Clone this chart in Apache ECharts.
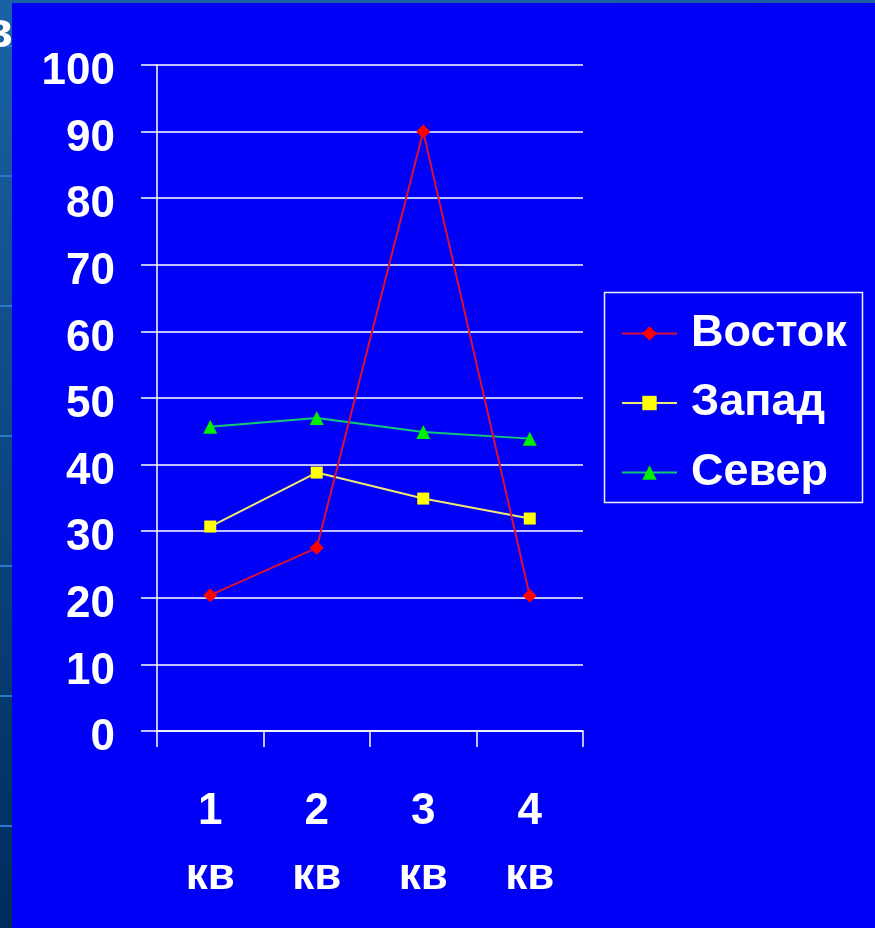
<!DOCTYPE html>
<html>
<head>
<meta charset="utf-8">
<script src="https://cdn.jsdelivr.net/npm/echarts@6/dist/echarts.min.js"></script>
<style>html,body{margin:0;padding:0;background:#0000f6;}#c{width:875px;height:928px;}</style>
</head>
<body>
<div id="c"></div>
<script>
var categories = ['1\nкв', '2\nкв', '3\nкв', '4\nкв'];
var seriesNames = ['Восток', 'Запад', 'Север'];
var vostok = [20.4, 27.5, 90, 20.3];
var zapad = [30.7, 38.8, 34.9, 31.9];
var sever = [45.7, 47, 44.9, 43.9];
var yTicks = [0, 10, 20, 30, 40, 50, 60, 70, 80, 90, 100];

var FONT = '"Liberation Sans", Arial, sans-serif';
var chart = echarts.init(document.getElementById('c'), null, {renderer: 'canvas'});

var stripLines = [];
[45, 175, 305, 435, 565, 695, 825].forEach(function (y) {
  stripLines.push({type: 'rect', shape: {x: 0, y: y, width: 12, height: 2}, style: {fill: '#2a78cc'}, z: 1});
});

chart.setOption({
  backgroundColor: '#0000f6',
  animation: false,
  graphic: [
    {type: 'rect', shape: {x: 0, y: 0, width: 12, height: 928},
      style: {fill: new echarts.graphic.LinearGradient(0, 0, 0, 1, [{offset: 0, color: '#1a62a6'}, {offset: 1, color: '#002c5c'}])}, z: 0},
    {type: 'rect', shape: {x: 0, y: 0, width: 875, height: 3},
      style: {fill: new echarts.graphic.LinearGradient(0, 0, 1, 0, [{offset: 0, color: '#1a62a6'}, {offset: 1, color: '#1a5ea0'}])}, z: 0}
  ].concat(stripLines).concat([
    {type: 'text', style: {x: 13, y: 33, text: 'в', fill: '#ffffff', font: 'bold 50px ' + FONT, textAlign: 'right', textVerticalAlign: 'middle'}, z: 2},
    {type: 'rect', shape: {x: 12, y: 3, width: 25, height: 120}, style: {fill: '#0000f6'}, z: 3},
    {type: 'rect', shape: {x: 604.5, y: 292.5, width: 258, height: 210}, style: {fill: 'none', stroke: '#f0f0f0', lineWidth: 1.5}, z: 3}
  ]),
  grid: {left: 157, right: 292, top: 65, bottom: 197, containLabel: false},
  legend: {
    orient: 'vertical', left: 621, top: 311, padding: 0,
    itemWidth: 55, itemHeight: 18, itemGap: 24.5,
    data: seriesNames,
    textStyle: {color: '#ffffff', fontSize: 45, fontWeight: 'bold', fontFamily: FONT, lineHeight: 44, padding: [0, 0, 0, 9]}
  },
  xAxis: {
    type: 'category', data: categories, boundaryGap: true,
    axisLine: {lineStyle: {color: '#ffffff', width: 1.5}},
    axisTick: {show: true, length: 16, alignWithLabel: false, lineStyle: {color: '#ffffff', width: 1.5}},
    axisLabel: {color: '#ffffff', fontSize: 44, fontWeight: 'bold', fontFamily: FONT, lineHeight: 65, margin: 48}
  },
  yAxis: {
    type: 'value', min: 0, max: 100, interval: 10,
    axisLine: {show: true, lineStyle: {color: '#ffffff', width: 1.5}},
    axisTick: {show: true, length: 16, lineStyle: {color: '#ffffff', width: 1.5}},
    splitLine: {show: true, lineStyle: {color: '#ffffff', width: 1.5}},
    axisLabel: {color: '#ffffff', fontSize: 44, fontWeight: 'bold', fontFamily: FONT, margin: 42,
      verticalAlign: 'top', lineHeight: 14,
      formatter: function (v) { return yTicks.indexOf(v) >= 0 ? String(v) : ''; }}
  },
  series: [
    {name: seriesNames[0], type: 'line', data: vostok, symbol: 'diamond', symbolSize: 14,
      lineStyle: {color: '#dc1030', width: 2}, itemStyle: {color: '#ff0000'}, z: 5},
    {name: seriesNames[1], type: 'line', data: zapad, symbol: 'rect', symbolSize: 12,
      lineStyle: {color: '#f0e870', width: 2}, itemStyle: {color: '#ffff00'}, z: 4},
    {name: seriesNames[2], type: 'line', data: sever, symbol: 'triangle', symbolSize: 14,
      lineStyle: {color: '#10c878', width: 2}, itemStyle: {color: '#00ee00'}, z: 3}
  ]
});
</script>
</body>
</html>
